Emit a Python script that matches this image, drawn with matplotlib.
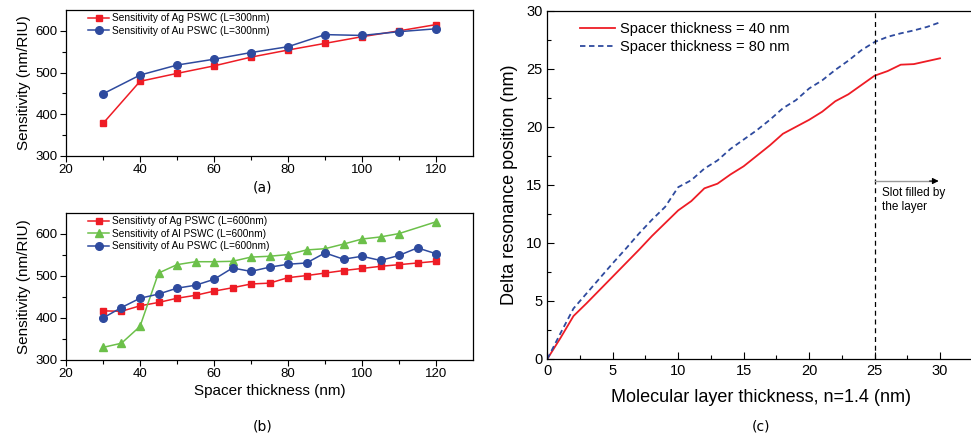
import matplotlib
matplotlib.use("Agg")
import matplotlib.pyplot as plt
import numpy as np

W, H = 971, 437

# %% data
x_a = [30, 40, 50, 60, 70, 80, 90, 100, 110, 120]
ag_300 = [378, 479, 498, 516, 537, 554, 570, 586, 600, 615]
au_300 = [449, 494, 518, 532, 548, 562, 591, 589, 598, 605]

x_b = [30, 35, 40, 45, 50, 55, 60, 65, 70, 75, 80, 85, 90, 95, 100, 105, 110, 115, 120]
ag_600 = [417, 416, 429, 437, 447, 454, 464, 472, 481, 483, 496, 501, 507, 513, 518, 523, 527, 531, 535]
au_600 = [400, 425, 447, 457, 471, 478, 492, 519, 511, 521, 528, 531, 555, 540, 547, 537, 549, 567, 553]
x_al = [30, 35, 40, 45, 50, 55, 60, 65, 70, 75, 80, 85, 90, 95, 100, 105, 110, 120]
al_600 = [330, 340, 380, 507, 527, 534, 534, 535, 545, 547, 551, 562, 565, 576, 588, 593, 601, 629]

x_c = list(range(0, 31))
sp40 = [0, 1.8, 3.7, 4.8, 5.95, 7.1, 8.25, 9.4, 10.6, 11.7, 12.8, 13.6, 14.7, 15.1, 15.9,
        16.6, 17.5, 18.4, 19.4, 20.0, 20.6, 21.3, 22.2, 22.8, 23.6, 24.4, 24.8, 25.35,
        25.4, 25.65, 25.9]
sp80 = [0, 2.2, 4.35, 5.65, 6.95, 8.25, 9.5, 10.8, 12.0, 13.1, 14.8, 15.4, 16.4, 17.1,
        18.1, 18.9, 19.7, 20.6, 21.6, 22.3, 23.3, 24.0, 24.9, 25.7, 26.6, 27.3, 27.75,
        28.05, 28.3, 28.6, 29.0]

RED = "#ee1c25"
BLUE = "#2e4a9e"
GREEN = "#6cc04a"
FONT = "Liberation Sans"


def px_axes(fig, left, top, right, bottom):
    return fig.add_axes([left / W, 1 - bottom / H, (right - left) / W, (bottom - top) / H])


def style_small(ax):
    ax.set_xlim(20, 130)
    ax.set_ylim(300, 650)
    ax.set_xticks([20, 40, 60, 80, 100, 120])
    ax.set_xticks(range(30, 130, 20), minor=True)
    ax.set_yticks([300, 400, 500, 600])
    ax.set_yticks([350, 450, 550], minor=True)
    ax.tick_params(which="both", direction="out", top=False, right=False, width=0.8)
    ax.tick_params(which="major", length=4, labelsize=9.5, pad=2)
    ax.tick_params(which="minor", length=3)
    for lab in ax.get_xticklabels() + ax.get_yticklabels():
        lab.set_fontfamily(FONT)
    for s in ax.spines.values():
        s.set_linewidth(0.9)


fig = plt.figure(figsize=(W / 100, H / 100), dpi=100)

# %% (a)
ax_a = px_axes(fig, 66, 10, 473, 156)
ax_a.plot(x_a, ag_300, "-s", color=RED, ms=5, lw=1.1, label="Sensitivity of Ag PSWC (L=300nm)")
ax_a.plot(x_a, au_300, "-o", color=BLUE, ms=5.5, lw=1.1, label="Sensitivity of Au PSWC (L=300nm)")
style_small(ax_a)
ax_a.set_ylabel("Sensitivity (nm/RIU)", fontfamily=FONT, fontsize=11, labelpad=3)
ax_a.legend(loc="upper left", bbox_to_anchor=(0.04, 1.02), frameon=False,
            prop={"family": FONT, "size": 7.3}, handlelength=2.0,
            handletextpad=0.3, labelspacing=0.25, borderaxespad=0.2)
fig.text(263 / W, 1 - 187 / H, "(a)", ha="center", va="center", fontsize=10)

# %% (b)
ax_b = px_axes(fig, 66, 213, 473, 360)
ax_b.plot(x_b, ag_600, "-s", color=RED, ms=5, lw=1.1, label="Sensitivty of Ag PSWC (L=600nm)")
ax_b.plot(x_al, al_600, "-^", color=GREEN, ms=5.5, lw=1.1, label="Sensitivity of Al PSWC (L=600nm)")
ax_b.plot(x_b, au_600, "-o", color=BLUE, ms=5.5, lw=1.1, label="Sensitivity of Au PSWC (L=600nm)")
style_small(ax_b)
ax_b.set_ylabel("Sensitivity (nm/RIU)", fontfamily=FONT, fontsize=11, labelpad=3)
ax_b.set_xlabel("Spacer thickness (nm)", fontfamily=FONT, fontsize=11, labelpad=3)
ax_b.legend(loc="upper left", bbox_to_anchor=(0.04, 1.02), frameon=False,
            prop={"family": FONT, "size": 7.3}, handlelength=2.0,
            handletextpad=0.3, labelspacing=0.25, borderaxespad=0.2)
fig.text(263 / W, 1 - 426 / H, "(b)", ha="center", va="center", fontsize=10)

# %% (c)
x0, x30 = 547.3, 940.0
ppu = (x30 - x0) / 30
right_px = 975
ax_c = px_axes(fig, x0, 10.7, right_px, 359)
ax_c.set_xlim(0, (right_px - x0) / ppu)
ax_c.set_ylim(0, 30)
ax_c.plot(x_c, sp40, "-", color=RED, lw=1.3, label="Spacer thickness = 40 nm")
ax_c.plot(x_c, sp80, "--", color=BLUE, lw=1.3, dashes=(3, 2), label="Spacer thickness = 80 nm")
ax_c.axvline(25, color="black", lw=0.9, ls=(0, (4, 3)))
ax_c.plot([25.0, 29.3], [15.33, 15.33], color="#999999", lw=1.0)
ax_c.annotate("", xy=(29.9, 15.33), xytext=(29.2, 15.33),
              arrowprops=dict(arrowstyle="-|>", color="black", lw=0.8,
                              mutation_scale=9, shrinkA=0, shrinkB=0))
ax_c.text(25.55, 14.85, "Slot filled by\nthe layer", ha="left", va="top",
          fontfamily=FONT, fontsize=8.5, linespacing=1.3)
ax_c.set_xticks([0, 5, 10, 15, 20, 25, 30])
ax_c.set_xticks(np.arange(2.5, 32, 5), minor=True)
ax_c.set_yticks([0, 5, 10, 15, 20, 25, 30])
ax_c.set_yticks(np.arange(2.5, 30, 5), minor=True)
ax_c.tick_params(which="both", direction="in", top=False, right=False, width=0.8)
ax_c.tick_params(which="major", length=5, labelsize=10.5)
ax_c.tick_params(which="minor", length=3)
for lab in ax_c.get_xticklabels() + ax_c.get_yticklabels():
    lab.set_fontfamily(FONT)
for s in ax_c.spines.values():
    s.set_linewidth(0.9)
ax_c.set_xlabel("Molecular layer thickness, n=1.4 (nm)", fontfamily=FONT, fontsize=13, labelpad=8)
ax_c.set_ylabel("Delta resonance position (nm)", fontfamily=FONT, fontsize=13, labelpad=6)
ax_c.legend(loc="upper left", bbox_to_anchor=(0.05, 1.0), frameon=False,
            prop={"family": FONT, "size": 10.5}, handlelength=2.4,
            handletextpad=0.3, labelspacing=0.25, borderaxespad=0.4)
fig.text(761 / W, 1 - 426 / H, "(c)", ha="center", va="center", fontsize=10)

fig.savefig("out.png", dpi=100)
